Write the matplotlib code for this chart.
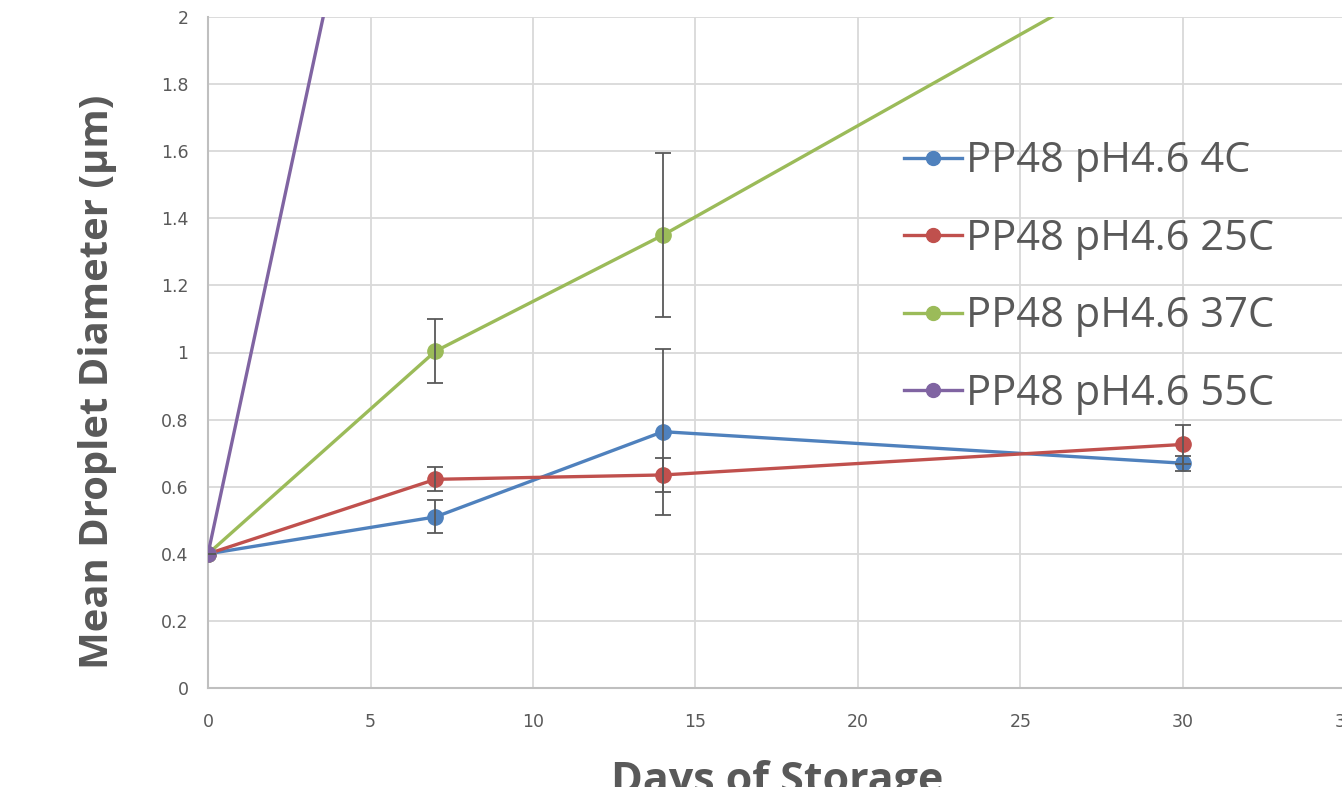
import matplotlib.pyplot as plt

days = [0, 7, 14, 30]
labels = ['PP48 pH4.6 4C', 'PP48 pH4.6 25C', 'PP48 pH4.6 37C', 'PP48 pH4.6 55C']
d_4c = [0.40, 0.51, 0.764, 0.670]
e_4c = [0, 0.049, 0.247, 0.022]
d_25c = [0.40, 0.622, 0.635, 0.726]
e_25c = [0, 0.036, 0.051, 0.058]
d_37c = [0.40, 1.004, 1.350, 2.22]
e_37c = [0, 0.095, 0.245, 0]
days_55c = [0, 7]
d_55c = [0.40, 3.56]
colors = ['#4F81BD', '#C0504D', '#9BBB59', '#8064A2']

fig = plt.figure(figsize=(13.42, 7.87), dpi=100)
ax = fig.add_axes([208 / 1342, 1 - 688 / 787, 1137.5 / 1342, 671 / 787])

series = [(days, d_4c, e_4c), (days, d_25c, e_25c), (days, d_37c, e_37c), (days_55c, d_55c, None)]
for (x, y, e), c, lab in zip(series, colors, labels):
    ax.plot(x, y, color=c, lw=2.4, marker='o', ms=11, label=lab, zorder=3)
    if e is not None:
        ax.errorbar(x, y, yerr=e, fmt='none', ecolor='#595959', elinewidth=1.3,
                    capsize=6, capthick=1.3, zorder=4)

ax.set_xlim(0, 35)
ax.set_ylim(0, 2)
ax.set_xticks(range(0, 36, 5))
ax.set_yticks([0, 0.2, 0.4, 0.6, 0.8, 1.0, 1.2, 1.4, 1.6, 1.8, 2.0])
ax.set_yticklabels(['0', '0.2', '0.4', '0.6', '0.8', '1', '1.2', '1.4', '1.6', '1.8', '2'])
ax.tick_params(axis='y', length=0, labelsize=12.5, colors='#595959', pad=14)
ax.tick_params(axis='x', length=0, labelsize=12.5, colors='#595959', pad=18)
ax.grid(color='#D9D9D9', lw=1.3)
ax.set_axisbelow(True)
for s in ['top', 'right']:
    ax.spines[s].set_visible(False)
for s in ['left', 'bottom']:
    ax.spines[s].set_color('#BFBFBF')
    ax.spines[s].set_linewidth(1.5)

ax.set_ylabel('Mean Droplet Diameter (µm)', fontsize=28.8, fontweight='bold',
              color='#595959', family='Open Sans')
ax.yaxis.set_label_coords(-0.08, 0.456)
ax.set_xlabel('Days of Storage', fontsize=31, fontweight='bold',
              color='#595959', family='Open Sans', labelpad=21)

leg = ax.legend(loc='upper left', bbox_to_anchor=(0.579, 0.872), frameon=False,
                labelcolor='#595959', handlelength=1.4,
                handletextpad=0.08, labelspacing=0.85, prop={'family': 'Open Sans', 'size': 30})
for h in leg.legend_handles:
    h.set_markersize(10)

fig.savefig('out.png', dpi=100)
